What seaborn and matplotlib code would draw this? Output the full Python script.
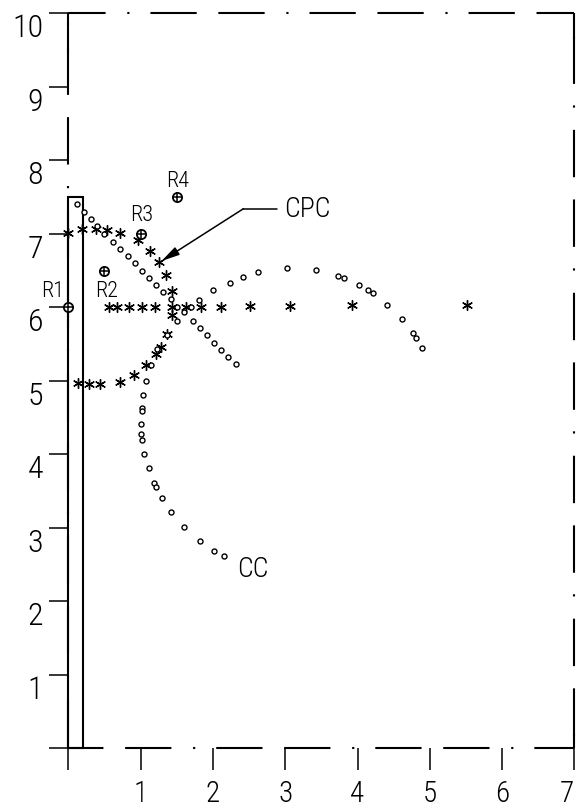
import matplotlib
matplotlib.use("Agg")
import matplotlib.pyplot as plt
from matplotlib import font_manager
from matplotlib.patches import Rectangle
import seaborn as sns

# ---------------- data ----------------
x_ticks = [0, 1, 2, 3, 4, 5, 6, 7]
x_tick_labels = ["", "1", "2", "3", "4", "5", "6", "7"]
y_ticks = [0, 1, 2, 3, 4, 5, 6, 7, 8, 9, 10]
y_tick_labels = ["", "1", "2", "3", "4", "5", "6", "7", "8", "9", "10"]

# reference points R1..R4
r_names = ["R1", "R2", "R3", "R4"]
r_x = [0.0, 0.5, 1.0, 1.5]
r_y = [6.0, 6.5, 7.0, 7.5]

# star trajectory starting at y=7
star_upper_x = [0.00, 0.19, 0.38, 0.53, 0.72, 0.96, 1.13, 1.26, 1.35, 1.43]
star_upper_y = [7.01, 7.06, 7.07, 7.05, 7.01, 6.91, 6.77, 6.61, 6.44, 6.22]
# star trajectory along y=6
star_row_x = [0.56, 0.68, 0.84, 1.02, 1.20, 1.44, 1.63, 1.84, 2.11, 2.51, 3.06, 3.93, 5.51]
star_row_y = [6.01, 6.01, 6.01, 6.01, 6.01, 6.01, 6.01, 6.01, 6.01, 6.02, 6.02, 6.03, 6.03]
# star trajectory starting at y=5
star_lower_x = [0.13, 0.29, 0.44, 0.71, 0.91, 1.07, 1.21, 1.28, 1.37, 1.43]
star_lower_y = [4.97, 4.95, 4.96, 4.99, 5.08, 5.21, 5.36, 5.46, 5.64, 5.89]

# circle trajectory: diagonal from the wall top
circ_diag_x = [0.12, 0.21, 0.31, 0.40, 0.50, 0.62, 0.71, 0.82, 0.92, 1.02, 1.12, 1.21,
               1.31, 1.42, 1.51, 1.60, 1.72, 1.82, 1.92, 2.02, 2.11, 2.21, 2.32]
circ_diag_y = [7.41, 7.29, 7.20, 7.10, 7.00, 6.89, 6.79, 6.70, 6.60, 6.50, 6.40, 6.30,
               6.21, 6.11, 6.01, 5.93, 5.82, 5.72, 5.62, 5.52, 5.42, 5.32, 5.23]
# circle trajectory: arc to the right
circ_arc_x = [1.70, 1.81, 2.00, 2.23, 2.41, 2.62, 3.02, 3.42, 3.73, 3.81, 4.02, 4.14,
              4.22, 4.41, 4.62, 4.77, 4.81, 4.89]
circ_arc_y = [6.01, 6.10, 6.23, 6.33, 6.41, 6.48, 6.53, 6.51, 6.42, 6.40, 6.31, 6.24,
              6.19, 6.03, 5.84, 5.65, 5.58, 5.45]
# circle trajectory: CC curve going down
circ_cc_x = [1.51, 1.36, 1.23, 1.15, 1.08, 1.03, 1.02, 1.02, 1.00, 1.01, 1.02, 1.05,
             1.11, 1.18, 1.21, 1.29, 1.42, 1.60, 1.82, 2.01, 2.15]
circ_cc_y = [5.82, 5.62, 5.43, 5.21, 5.00, 4.81, 4.63, 4.59, 4.41, 4.27, 4.20, 4.00,
             3.81, 3.61, 3.55, 3.41, 3.21, 3.01, 2.82, 2.69, 2.61]

# wall (tall narrow rectangle)
wall_width = 0.2
wall_height = 7.5

# ---------------- style ----------------
sns.set_theme(style="white")
available = {f.name for f in font_manager.fontManager.ttflist}
base_font = "DejaVu Sans"
for cand in ["Liberation Sans Narrow", "Roboto Condensed", "Liberation Sans"]:
    if cand in available:
        base_font = cand
        break
plt.rcParams["font.family"] = [base_font, "DejaVu Sans"]
plt.rcParams["font.weight"] = "light"
plt.rcParams["lines.scale_dashes"] = False
for k in ["text.color", "axes.labelcolor", "xtick.color", "ytick.color"]:
    plt.rcParams[k] = "black"

fig = plt.figure(figsize=(5.78, 8.12), dpi=100)
ax = fig.add_axes([0.1182, 0.0772, 0.8756, 0.9052])
ax.set_xlim(0, 7)
ax.set_ylim(0, 10)
for s in ax.spines.values():
    s.set_visible(False)

# ---------------- frame (plotter-style dashed border) ----------------
pt_per_x = 0.8756 * 5.78 * 72 / 7.0
pt_per_y = 0.9052 * 8.12 * 72 / 10.0
pattern = [0.64, 0.30, 0.64, 0.30, 0.03, 0.29]
yfac = 2.217 / 2.2
dash_x = tuple(p * pt_per_x for p in pattern)
dash_y = tuple(p * pt_per_y * yfac for p in pattern)
frame_kw = dict(color="black", lw=1.5, clip_on=False, solid_capstyle="butt",
                dash_capstyle="butt", zorder=2)
ax.plot([0, 7], [10, 10], linestyle=(1.06 * pt_per_x, dash_x), **frame_kw)
ax.plot([0, 7], [0, 0], linestyle=(0.15 * pt_per_x, dash_x), **frame_kw)
ax.plot([0, 0], [0, 10], linestyle=(0.93 * pt_per_y, dash_y), **frame_kw)
ax.plot([7, 7], [0, 10], linestyle=(2.05 * pt_per_y, dash_y), **frame_kw)
# solid corner pieces of the plotter frame
ax.plot([0, 0], [9.45, 10], **frame_kw)
ax.plot([7, 7], [9.65, 10], **frame_kw)
ax.plot([7, 7], [0, 0.2], **frame_kw)

# ---------------- ticks ----------------
ax.set_xticks(x_ticks, x_tick_labels)
ax.set_yticks(y_ticks, y_tick_labels)
ax.tick_params(axis="y", left=True, direction="out", length=14, width=1.1,
               pad=4, labelsize=23)
ax.tick_params(axis="x", bottom=True, direction="out", length=16, width=1.1,
               pad=6, labelsize=21)
for t in ax.get_yticklabels():
    t.set_verticalalignment("top")
# last x label sits at the right edge of the page
ax.get_xticklabels()[-1].set_horizontalalignment("right")

# ---------------- wall ----------------
ax.add_patch(Rectangle((0, 0), wall_width, wall_height, fill=False, ec="black",
                       lw=1.5, clip_on=False, zorder=3))

# ---------------- markers ----------------
star = (6, 2, 0)
star_kw = dict(ax=ax, marker=star, s=50, color="black", linewidth=1.0,
               clip_on=False, zorder=4, legend=False)
sns.scatterplot(x=star_upper_x, y=star_upper_y, **star_kw)
sns.scatterplot(x=star_row_x, y=star_row_y, **star_kw)
sns.scatterplot(x=star_lower_x, y=star_lower_y, **star_kw)

circ_kw = dict(ax=ax, marker="o", s=13, color="white", edgecolor="black",
               linewidth=1.0, clip_on=False, zorder=5, legend=False)
sns.scatterplot(x=circ_diag_x, y=circ_diag_y, **circ_kw)
sns.scatterplot(x=circ_arc_x, y=circ_arc_y, **circ_kw)
sns.scatterplot(x=circ_cc_x, y=circ_cc_y, **circ_kw)

sns.scatterplot(x=r_x, y=r_y, ax=ax, marker="o", s=44, color="white",
                edgecolor="black", linewidth=1.3, clip_on=False, zorder=6,
                legend=False)
sns.scatterplot(x=r_x, y=r_y, ax=ax, marker="+", s=46, color="black",
                linewidth=1.1, clip_on=False, zorder=7, legend=False)

# ---------------- labels ----------------
r_label_dx = [-0.22, 0.03, 0.02, 0.01]
r_label_dy = [0.23, -0.27, 0.26, 0.23]
for name, x, y, dx, dy in zip(r_names, r_x, r_y, r_label_dx, r_label_dy):
    ax.text(x + dx, y + dy, name, ha="center", va="center", fontsize=16)

ax.annotate("", xy=(1.29, 6.63), xytext=(2.42, 7.34),
            arrowprops=dict(arrowstyle="-|>,head_length=0.9,head_width=0.22",
                            color="black", lw=1.1, shrinkA=0, shrinkB=0))
ax.plot([2.42, 2.88], [7.34, 7.34], color="black", lw=1.1)
ax.text(2.98, 7.34, "CPC", ha="left", va="center", fontsize=20)
ax.text(2.33, 2.44, "CC", ha="left", va="center", fontsize=20)

fig.savefig("out.png", dpi=100)
